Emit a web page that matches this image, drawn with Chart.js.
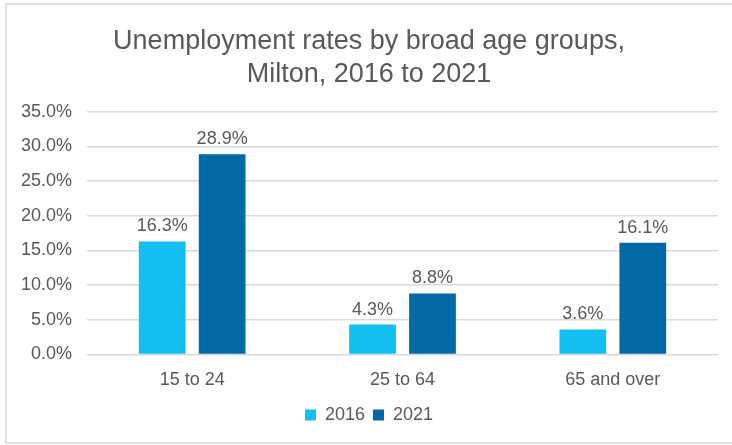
<!DOCTYPE html>
<html>
<head>
<meta charset="utf-8">
<title>Unemployment rates by broad age groups</title>
<script src="https://cdn.jsdelivr.net/npm/chart.js@4/dist/chart.umd.min.js"></script>
<style>
  html, body { margin: 0; padding: 0; background: #fff; }
  #wrap { position: relative; width: 732px; height: 445px; }
</style>
</head>
<body>
<div id="wrap"><canvas id="chart" width="732" height="445"></canvas></div>
<script>
const ageGroups = ['15 to 24', '25 to 64', '65 and over'];
const rates2016 = [16.3, 4.3, 3.6];
const rates2021 = [28.9, 8.8, 16.1];
const titleLines = ['Unemployment rates by broad age groups,', 'Milton, 2016 to 2021'];

const textColor = '#595959';
const fontFamily = 'Arial, "Liberation Sans", sans-serif';

// light frame around the whole chart
const framePlugin = {
    id: 'frame',
    beforeDraw(chart) {
        const ctx = chart.ctx;
        ctx.save();
        ctx.fillStyle = '#fff';
        ctx.fillRect(0, 0, chart.width, chart.height);
        ctx.strokeStyle = '#d9d9d9';
        ctx.lineWidth = 1.5;
        ctx.strokeRect(6, 4, chart.width + 10, chart.height - 6);
        ctx.restore();
    }
};

// percentage labels above each bar
const valueLabels = {
    id: 'valueLabels',
    afterDatasetsDraw(chart) {
        const ctx = chart.ctx;
        ctx.save();
        ctx.fillStyle = textColor;
        ctx.font = '18px ' + fontFamily;
        ctx.textAlign = 'center';
        ctx.textBaseline = 'bottom';
        chart.data.datasets.forEach((ds, i) => {
            chart.getDatasetMeta(i).data.forEach((bar, j) => {
                ctx.fillText(ds.data[j].toFixed(1) + '%', bar.x, bar.y - 6);
            });
        });
        ctx.restore();
    }
};

new Chart(document.getElementById('chart'), {
    type: 'bar',
    data: {
        labels: ageGroups,
        datasets: [
            { label: '2016', data: rates2016, backgroundColor: '#13bef0', borderWidth: 0 },
            { label: '2021', data: rates2021, backgroundColor: '#0069a6', borderWidth: 0 }
        ]
    },
    options: {
        responsive: false,
        animation: false,
        categoryPercentage: 0.57,
        barPercentage: 0.78,
        layout: { padding: { left: 20, right: 14, top: 25, bottom: 11 } },
        plugins: {
            title: {
                display: true,
                text: titleLines,
                color: textColor,
                font: { family: fontFamily, size: 27, weight: 'normal', lineHeight: 1.22 },
                padding: { top: 0, bottom: 21 }
            },
            legend: {
                position: 'bottom',
                labels: {
                    color: textColor,
                    font: { family: fontFamily, size: 18 },
                    boxWidth: 11,
                    boxHeight: 11,
                    padding: 8
                }
            },
            tooltip: { enabled: false }
        },
        scales: {
            x: {
                grid: { display: false },
                border: { display: false },
                ticks: { color: textColor, font: { family: fontFamily, size: 18 }, padding: 7 }
            },
            y: {
                min: 0,
                max: 35,
                afterFit: scale => { scale.width = 67; },
                ticks: {
                    stepSize: 5,
                    color: textColor,
                    font: { family: fontFamily, size: 18 },
                    padding: 15,
                    callback: v => v.toFixed(1) + '%'
                },
                grid: { color: '#d9d9d9', lineWidth: 1.5, drawTicks: false },
                border: { display: false }
            }
        }
    },
    plugins: [framePlugin, valueLabels]
});
</script>
</body>
</html>
